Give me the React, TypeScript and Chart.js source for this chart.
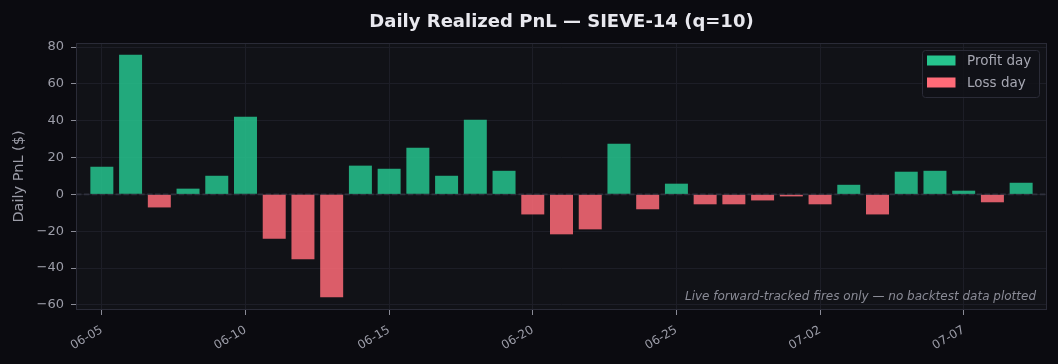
import React, { useEffect, useRef } from "react";
import { Chart, registerables } from "chart.js";

Chart.register(...registerables);

// ---- data ----
const dates: string[] = [
  "06-05", "06-06", "06-07", "06-08", "06-09", "06-10", "06-11", "06-12", "06-13", "06-14",
  "06-15", "06-16", "06-17", "06-18", "06-19", "06-20", "06-21", "06-22", "06-23", "06-24",
  "06-25", "06-26", "06-27", "06-28", "06-29", "07-02", "07-03", "07-04", "07-05", "07-06",
  "07-07", "07-08", "07-09",
];
const pnl: number[] = [
  15.0, 75.8, -7.1, 3.1, 10.1, 42.2, -24.1, -35.3, -55.9, 15.6,
  13.9, 25.3, 10.1, 40.5, 12.8, -10.9, -21.7, -19.0, 27.5, -8.1,
  5.8, -5.4, -5.4, -3.3, -1.1, -5.4, 5.2, -10.9, 12.3, 12.8,
  2.0, -4.3, 6.3,
];
const xTickIndices: number[] = [0, 5, 10, 15, 20, 25, 30];
const yTickValues: number[] = [-60, -40, -20, 0, 20, 40, 60, 80];
const legendLabels: string[] = ["Profit day", "Loss day"];

const TITLE = "Daily Realized PnL \u2014 SIEVE-14 (q=10)";
const Y_LABEL = "Daily PnL ($)";
const NOTE = "Live forward-tracked fires only \u2014 no backtest data plotted";

const FONT = "'DejaVu Sans', sans-serif";
const GREEN = "#26c48e";
const RED = "#ff6b78";
const GREEN_BAR = "rgba(38,196,142,0.85)";
const RED_BAR = "rgba(255,107,120,0.85)";
const FIG_BG = "#0b0b10";
const AX_BG = "#111217";
const GRID = "#1d1e27";
const SPINE = "#2a2b37";
const TICK_TXT = "#9c9da8";

const decorPlugin = {
  id: "decor",
  beforeDraw(chart: any) {
    const { ctx, chartArea } = chart;
    const { left, top, right, bottom } = chartArea;
    ctx.save();
    ctx.fillStyle = FIG_BG;
    ctx.fillRect(0, 0, chart.width, chart.height);
    ctx.fillStyle = AX_BG;
    ctx.fillRect(left, top, right - left, bottom - top);
    ctx.restore();
  },
  beforeDatasetsDraw(chart: any) {
    const { ctx, chartArea, scales } = chart;
    const y0 = scales.y.getPixelForValue(0);
    ctx.save();
    ctx.strokeStyle = "#2f303d";
    ctx.lineWidth = 1.6;
    ctx.setLineDash([5.5, 2.4]);
    ctx.beginPath();
    ctx.moveTo(chartArea.left, y0);
    ctx.lineTo(chartArea.right, y0);
    ctx.stroke();
    ctx.restore();
  },
  afterDraw(chart: any) {
    const { ctx, chartArea } = chart;
    const { left, top, right, bottom } = chartArea;
    ctx.save();
    // spines
    ctx.strokeStyle = SPINE;
    ctx.lineWidth = 1;
    ctx.strokeRect(left + 0.5, top + 0.5, right - left - 1, bottom - top - 1);

    // title
    ctx.fillStyle = "#e8e8ee";
    ctx.font = `bold 18px ${FONT}`;
    ctx.textAlign = "center";
    ctx.textBaseline = "alphabetic";
    ctx.fillText(TITLE, (left + right) / 2, 27);

    // y label
    ctx.save();
    ctx.translate(19.5, (top + bottom) / 2);
    ctx.rotate(-Math.PI / 2);
    ctx.fillStyle = TICK_TXT;
    ctx.font = `14.5px ${FONT}`;
    ctx.textAlign = "center";
    ctx.textBaseline = "middle";
    ctx.fillText(Y_LABEL, 0, 0);
    ctx.restore();

    // note
    ctx.fillStyle = "#8a8b96";
    ctx.font = `italic 12px ${FONT}`;
    ctx.textAlign = "right";
    ctx.textBaseline = "middle";
    ctx.fillText(NOTE, right - 11, bottom - 13);

    // legend
    const lx = right - 125;
    const ly = top + 7;
    const lw = 117;
    const lh = 47;
    ctx.beginPath();
    (ctx as any).roundRect(lx + 0.5, ly + 0.5, lw, lh, 3);
    ctx.fillStyle = "rgba(17,18,23,0.85)";
    ctx.fill();
    ctx.strokeStyle = SPINE;
    ctx.lineWidth = 1;
    ctx.stroke();
    const colors = [GREEN, RED];
    ctx.font = `13.5px ${FONT}`;
    ctx.textAlign = "left";
    ctx.textBaseline = "middle";
    legendLabels.forEach((lab, i) => {
      const rowY = ly + 5.5 + i * 22;
      ctx.fillStyle = colors[i];
      ctx.fillRect(lx + 5, rowY, 28.5, 10);
      ctx.fillStyle = "#a6a7b2";
      ctx.fillText(lab, lx + 45, rowY + 5.5);
    });
    ctx.restore();
  },
};

export default function App() {
  const ref = useRef<HTMLCanvasElement>(null);

  useEffect(() => {
    if (!ref.current) return;
    const chart = new Chart(ref.current, {
      type: "bar",
      data: {
        datasets: [
          {
            data: pnl.map((v, i) => ({ x: i, y: v })),
            backgroundColor: pnl.map((v) => (v >= 0 ? GREEN_BAR : RED_BAR)),
            borderWidth: 0,
            barPercentage: 0.8,
            categoryPercentage: 1.0,
          } as any,
        ],
      },
      options: {
        animation: false,
        responsive: false,
        maintainAspectRatio: false,
        layout: { padding: { top: 43, right: 11, left: 0, bottom: 0 } },
        plugins: {
          legend: { display: false },
          title: { display: false },
          tooltip: { enabled: false },
        },
        scales: {
          x: {
            type: "linear",
            offset: false,
            min: -0.9,
            max: 32.9,
            afterBuildTicks: (scale: any) => {
              scale.ticks = xTickIndices.map((v) => ({ value: v }));
            },
            afterFit: (scale: any) => {
              scale.height = 54;
            },
            ticks: {
              autoSkip: false,
              minRotation: 30,
              maxRotation: 30,
              padding: 8,
              color: TICK_TXT,
              font: { family: FONT, size: 12 },
              callback: (value: any) => dates[Number(value)] ?? "",
            },
            grid: {
              offset: false,
              color: GRID,
              lineWidth: 1,
              drawTicks: true,
              tickLength: 5,
              tickColor: "#8a8b96",
            },
            border: { display: false },
          },
          y: {
            type: "linear",
            min: -62.8,
            max: 82.2,
            afterBuildTicks: (scale: any) => {
              scale.ticks = yTickValues.map((v) => ({ value: v }));
            },
            afterFit: (scale: any) => {
              scale.width = 76;
            },
            ticks: {
              padding: 7,
              color: TICK_TXT,
              font: { family: FONT, size: 13 },
              callback: (value: any) => {
                const n = Number(value);
                return n < 0 ? "\u2212" + Math.abs(n) : String(n);
              },
            },
            grid: {
              color: GRID,
              lineWidth: 1,
              drawTicks: true,
              tickLength: 5,
              tickColor: "#8a8b96",
            },
            border: { display: false },
          },
        },
      },
      plugins: [decorPlugin],
    } as any);
    return () => chart.destroy();
  }, []);

  return (
    <div
      style={{
        position: "fixed",
        left: 0,
        top: 0,
        width: 1058,
        height: 364,
        background: FIG_BG,
      }}
    >
      <canvas
        ref={ref}
        width={1058}
        height={364}
        style={{ display: "block", width: 1058, height: 364 }}
      />
    </div>
  );
}
